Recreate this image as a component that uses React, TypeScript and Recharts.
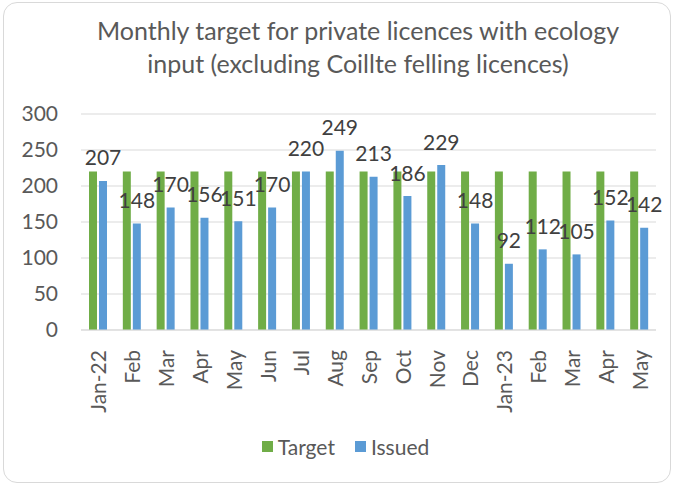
import React from "react";
import { BarChart, Bar, XAxis, YAxis, CartesianGrid, Legend, LabelList } from "recharts";

const months = ["Jan-22", "Feb", "Mar", "Apr", "May", "Jun", "Jul", "Aug", "Sep", "Oct", "Nov", "Dec", "Jan-23", "Feb", "Mar", "Apr", "May"];
const target = [220, 220, 220, 220, 220, 220, 220, 220, 220, 220, 220, 220, 220, 220, 220, 220, 220];
const issued = [207, 148, 170, 156, 151, 170, 220, 249, 213, 186, 229, 148, 92, 112, 105, 152, 142];
const yTicks = [0, 50, 100, 150, 200, 250, 300];
const seriesNames = ["Target", "Issued"];
const seriesColors = ["#70AD47", "#5B9BD5"];

const data = months.map((m, i) => ({ month: m, target: target[i], issued: issued[i] }));

const FONT = "Lato, 'Open Sans', sans-serif";
const GREY = "#595959";

const MonthTick = (props: any) => {
  const { x, y, payload } = props;
  return (
    <text
      x={x}
      y={y}
      transform={`rotate(-90, ${x}, ${y})`}
      textAnchor="end"
      dominantBaseline="central"
      dx={-12}
      fill={GREY}
      fontSize={21}
      fontFamily={FONT}
    >
      {payload.value}
    </text>
  );
};

const IssuedLabel = (props: any) => {
  const { x, y, width, value } = props;
  return (
    <text
      x={x + width / 2}
      y={y - 24}
      textAnchor="middle"
      dominantBaseline="central"
      fill="#404040"
      fontSize={21}
      fontFamily={FONT}
    >
      {value}
    </text>
  );
};

const LegendContent = () => (
  <div style={{ display: "flex", justifyContent: "center", fontFamily: FONT, fontSize: 21, color: GREY, paddingLeft: 14, paddingTop: 4 }}>
    {seriesNames.map((n, i) => (
      <div key={n} style={{ display: "flex", alignItems: "center", marginRight: i === 0 ? 20 : 0 }}>
        <span style={{ display: "inline-block", width: 11, height: 11, background: seriesColors[i], marginRight: 5 }} />
        <span>{n}</span>
      </div>
    ))}
  </div>
);

export default function App() {
  return (
    <div style={{ position: "absolute", left: 0, top: 0, width: 675, height: 485, background: "#fff" }}>
      <div
        style={{
          position: "absolute",
          left: 3,
          top: 2,
          width: 666,
          height: 479,
          border: "1px solid #d9d9d9",
          borderRadius: 14,
        }}
      />
      <div
        style={{
          position: "absolute",
          left: 20,
          top: 14,
          width: 676,
          textAlign: "center",
          color: GREY,
          fontFamily: FONT,
          fontSize: 25,
          lineHeight: "33px",
        }}
      >
        Monthly target for private licences with ecology
        <br />
        input (excluding Coillte felling licences)
      </div>
      <BarChart
        width={675}
        height={485}
        data={data}
        margin={{ top: 114, right: 19, left: 21, bottom: 15 }}
        barSize={8}
        barGap={2}
        style={{ position: "absolute", left: 0, top: 0 }}
      >
        <CartesianGrid vertical={false} stroke="#d9d9d9" />
        <XAxis
          dataKey="month"
          interval={0}
          height={100}
          tick={<MonthTick />}
          tickLine={false}
          axisLine={{ stroke: "#d9d9d9" }}
        />
        <YAxis
          domain={[0, 300]}
          ticks={yTicks}
          width={60}
          axisLine={false}
          tickLine={false}
          tickSize={0}
          tickMargin={23}
          tick={{ fill: GREY, fontSize: 21, fontFamily: FONT }}
        />
        <Legend verticalAlign="bottom" height={40} content={<LegendContent />} />
        <Bar dataKey="target" name="Target" fill="#70AD47" isAnimationActive={false} />
        <Bar dataKey="issued" name="Issued" fill="#5B9BD5" isAnimationActive={false}>
          <LabelList dataKey="issued" content={<IssuedLabel />} />
        </Bar>
      </BarChart>
    </div>
  );
}
